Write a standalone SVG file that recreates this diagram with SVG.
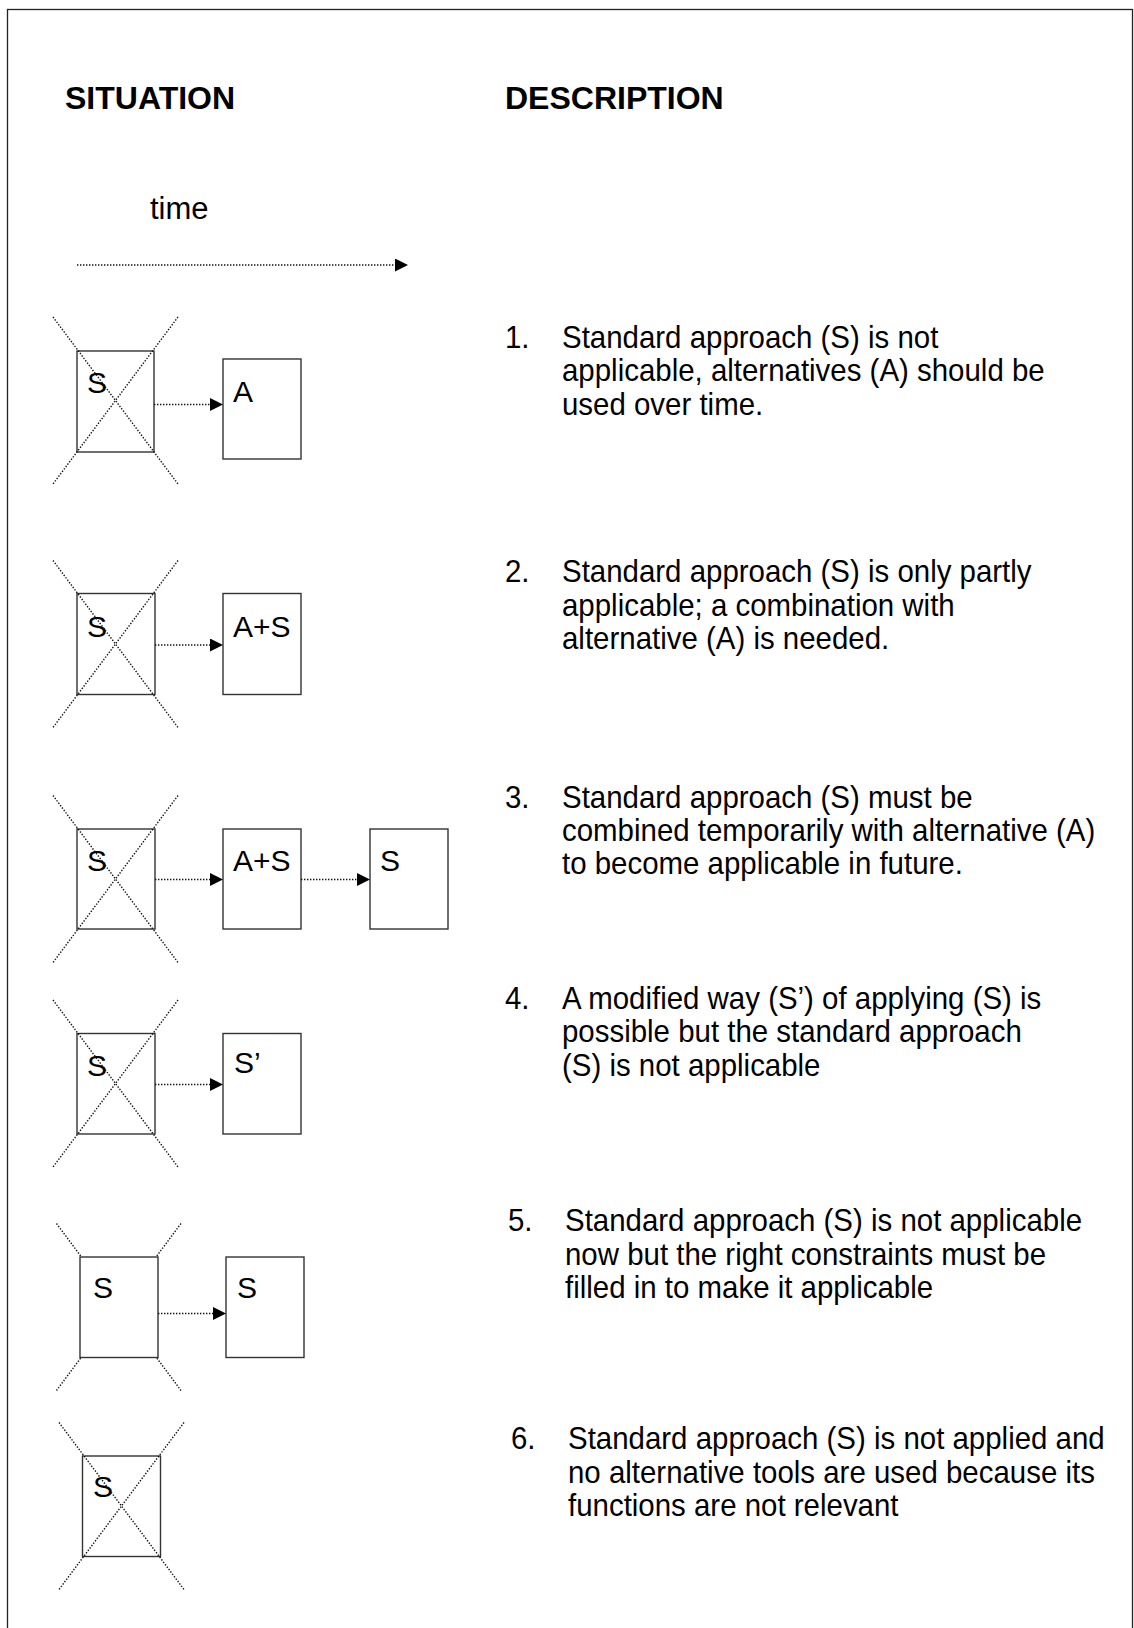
<svg xmlns="http://www.w3.org/2000/svg" width="1134" height="1628" viewBox="0 0 1134 1628">
  <style>
    .frame { fill: none; stroke: #222; stroke-width: 1.3; }
    .box { fill: #fff; stroke: #333; stroke-width: 1.4; }
    .dot { fill: none; stroke: #111; stroke-width: 1.4; stroke-dasharray: 1.4 1.6; }
    .head { font-family: "Liberation Sans", Arial, sans-serif; font-weight: bold; font-size: 32px; fill: #000; }
    .lbl { font-family: "Liberation Sans", Arial, sans-serif; font-size: 30px; fill: #000; }
    .desc { font-family: "Liberation Sans", Arial, sans-serif; font-size: 31px; fill: #000; }
  </style>
  <defs>
    <marker id="arrow" viewBox="0 0 13 13" refX="0" refY="6.5" markerWidth="13" markerHeight="13" markerUnits="userSpaceOnUse" orient="auto">
      <path d="M0,0 L13,6.5 L0,13 z" fill="#000"/>
    </marker>
  </defs>

  <rect width="1134" height="1628" fill="#fff"/>
  <rect class="frame" x="7.5" y="9.5" width="1125" height="1660"/>

  <!-- column headings -->
  <g id="headings">
    <text class="head" x="65" y="109">SITUATION</text>
    <text class="head" x="505" y="109">DESCRIPTION</text>
    <text class="desc" x="150" y="219">time</text>
  </g>

  <!-- row 1 -->
  <g id="row1-s">
    <rect class="box" x="77" y="351" width="77" height="101"/>
    <text class="lbl" x="87" y="393">S</text>
    <line class="dot" x1="53" y1="317" x2="178" y2="484"/>
    <line class="dot" x1="178" y1="317" x2="53" y2="484"/>
  </g>
  <g id="row1-a">
    <rect class="box" x="223" y="359" width="78" height="100"/>
    <text class="lbl" x="233" y="402">A</text>
  </g>

  <!-- row 2 -->
  <g id="row2-s">
    <rect class="box" x="77" y="593.5" width="78" height="101"/>
    <text class="lbl" x="87" y="637">S</text>
    <line class="dot" x1="53" y1="560.5" x2="178" y2="727.5"/>
    <line class="dot" x1="178" y1="560.5" x2="53" y2="727.5"/>
  </g>
  <g id="row2-as">
    <rect class="box" x="223" y="593.5" width="78" height="101"/>
    <text class="lbl" x="233" y="637">A+S</text>
  </g>

  <!-- row 3 -->
  <g id="row3-s">
    <rect class="box" x="77" y="829" width="78" height="100"/>
    <text class="lbl" x="87" y="871">S</text>
    <line class="dot" x1="53" y1="795.5" x2="178" y2="962.5"/>
    <line class="dot" x1="178" y1="795.5" x2="53" y2="962.5"/>
  </g>
  <g id="row3-as">
    <rect class="box" x="223" y="829" width="78" height="100"/>
    <text class="lbl" x="233" y="871">A+S</text>
  </g>
  <g id="row3-s2">
    <rect class="box" x="370" y="829" width="78" height="100"/>
    <text class="lbl" x="380" y="871">S</text>
  </g>

  <!-- row 4 -->
  <g id="row4-s">
    <rect class="box" x="77" y="1033.5" width="78" height="100.5"/>
    <text class="lbl" x="87" y="1076">S</text>
    <line class="dot" x1="53" y1="1000" x2="178" y2="1167"/>
    <line class="dot" x1="178" y1="1000" x2="53" y2="1167"/>
  </g>
  <g id="row4-sp">
    <rect class="box" x="223" y="1033.5" width="78" height="100.5"/>
    <text class="lbl" x="234" y="1073">S’</text>
  </g>

  <!-- row 5: crossing lines pass behind the box -->
  <g id="row5-s">
    <line class="dot" x1="56.5" y1="1223.5" x2="181" y2="1390.5"/>
    <line class="dot" x1="181" y1="1223.5" x2="56.5" y2="1390.5"/>
    <rect class="box" x="80" y="1257" width="78" height="100.5"/>
    <text class="lbl" x="93" y="1298">S</text>
  </g>
  <g id="row5-s2">
    <rect class="box" x="226" y="1257" width="78" height="100.5"/>
    <text class="lbl" x="237" y="1298">S</text>
  </g>

  <!-- row 6 -->
  <g id="row6-s">
    <rect class="box" x="82.5" y="1456" width="78" height="100.5"/>
    <text class="lbl" x="93" y="1497">S</text>
    <line class="dot" x1="59" y1="1422.5" x2="184" y2="1589.5"/>
    <line class="dot" x1="184" y1="1422.5" x2="59" y2="1589.5"/>
  </g>

  <!-- connectors -->
  <g id="connectors">
    <line class="dot" x1="77" y1="265" x2="395" y2="265" marker-end="url(#arrow)"/>
    <line class="dot" x1="154" y1="404.5" x2="210" y2="404.5" marker-end="url(#arrow)"/>
    <line class="dot" x1="155" y1="645" x2="210" y2="645" marker-end="url(#arrow)"/>
    <line class="dot" x1="155" y1="879.5" x2="210" y2="879.5" marker-end="url(#arrow)"/>
    <line class="dot" x1="301" y1="879.5" x2="357" y2="879.5" marker-end="url(#arrow)"/>
    <line class="dot" x1="155" y1="1084.5" x2="210" y2="1084.5" marker-end="url(#arrow)"/>
    <line class="dot" x1="158" y1="1313.5" x2="213" y2="1313.5" marker-end="url(#arrow)"/>
  </g>

  <!-- descriptions -->
  <g id="desc1" class="desc" transform="matrix(0.95 0 0 1 505 0)">
    <text x="0" y="348">1.</text>
    <text x="60" y="348">Standard approach (S) is not</text>
    <text x="60" y="381.5">applicable, alternatives (A) should be</text>
    <text x="60" y="415">used over time.</text>
  </g>
  <g id="desc2" class="desc" transform="matrix(0.95 0 0 1 505 0)">
    <text x="0" y="582.5">2.</text>
    <text x="60" y="582.5">Standard approach (S) is only partly</text>
    <text x="60" y="616">applicable; a combination with</text>
    <text x="60" y="649.5">alternative (A) is needed.</text>
  </g>
  <g id="desc3" class="desc" transform="matrix(0.95 0 0 1 505 0)">
    <text x="0" y="808">3.</text>
    <text x="60" y="808">Standard approach (S) must be</text>
    <text x="60" y="841">combined temporarily with alternative (A)</text>
    <text x="60" y="874">to become applicable in future.</text>
  </g>
  <g id="desc4" class="desc" transform="matrix(0.95 0 0 1 505 0)">
    <text x="0" y="1009">4.</text>
    <text x="60" y="1009">A modified way (S’) of applying (S) is</text>
    <text x="60" y="1042.5">possible but the standard approach</text>
    <text x="60" y="1076">(S) is not applicable</text>
  </g>
  <g id="desc5" class="desc" transform="matrix(0.95 0 0 1 508 0)">
    <text x="0" y="1231.5">5.</text>
    <text x="60" y="1231.5">Standard approach (S) is not applicable</text>
    <text x="60" y="1265">now but the right constraints must be</text>
    <text x="60" y="1298">filled in to make it applicable</text>
  </g>
  <g id="desc6" class="desc" transform="matrix(0.95 0 0 1 511 0)">
    <text x="0" y="1449.5">6.</text>
    <text x="60" y="1449.5">Standard approach (S) is not applied and</text>
    <text x="60" y="1483">no alternative tools are used because its</text>
    <text x="60" y="1516">functions are not relevant</text>
  </g>
</svg>
